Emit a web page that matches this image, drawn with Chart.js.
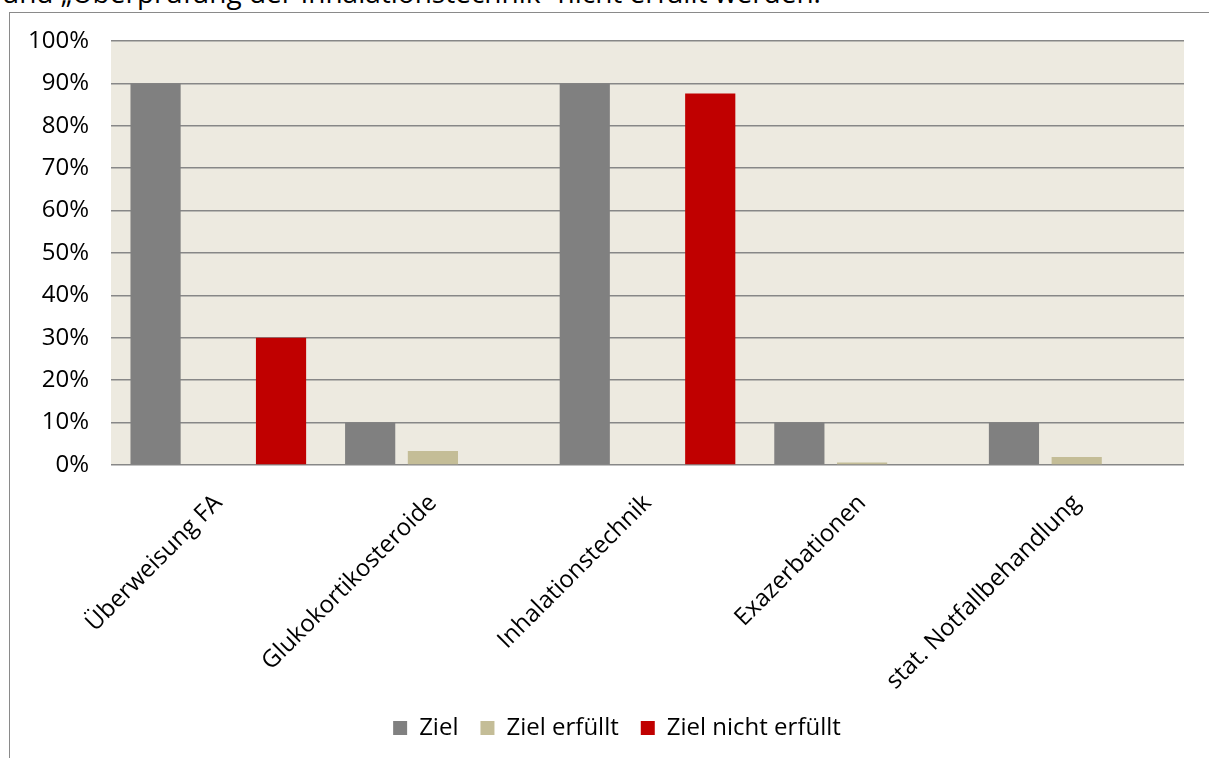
<!DOCTYPE html>
<html>
<head>
<meta charset="utf-8">
<script src="https://cdn.jsdelivr.net/npm/chart.js@4"></script>
<style>
  html, body { margin: 0; padding: 0; background: #fff; overflow: hidden; }
  #wrap { position: relative; width: 1209px; height: 758px; }
  #kopf { position: absolute; left: 2px; top: -22px; font: 28px "Open Sans", sans-serif; line-height: 1; color: #000; white-space: nowrap; }
  #rahmen { position: absolute; left: 9px; top: 12px; width: 1300px; height: 900px; border-left: 1px solid #8a8a8a; border-top: 1px solid #8a8a8a; background: #fff; }
  #chart { position: absolute; left: 0; top: 0; }
</style>
</head>
<body>
<div id="wrap">
  <div id="kopf">und „Überprüfung der Inhalationstechnik“ nicht erfüllt werden.</div>
  <div id="rahmen"></div>
  <canvas id="chart" width="1209" height="758"></canvas>
</div>
<script>
// daten
const kategorien = [
  'Überweisung FA',
  'Glukokortikosteroide',
  'Inhalationstechnik',
  'Exazerbationen',
  'stat. Notfallbehandlung'
];

const ziel = [90, 10, 90, 10, 10];
const zielErfuellt = [0, 3.3, 0, 0.6, 1.9];
const zielNichtErfuellt = [30, 0, 87.6, 0, 0];

const yTicks = [0, 10, 20, 30, 40, 50, 60, 70, 80, 90, 100];

// hintergrund der zeichenflaeche
const flaeche = {
  id: 'flaeche',
  beforeDraw(chart) {
    const a = chart.chartArea;
    const ctx = chart.ctx;
    ctx.save();
    ctx.fillStyle = '#EDEAE0';
    ctx.fillRect(a.left, a.top, a.right - a.left, a.bottom - a.top);
    ctx.restore();
  }
};

// legende etwas nach rechts schieben
const legendeVersatz = {
  id: 'legendeVersatz',
  afterLayout(chart) {
    chart.legend.left += 25;
    chart.legend.right += 25;
  }
};

Chart.defaults.font.family = '"Open Sans", sans-serif';
Chart.defaults.font.size = 24;
Chart.defaults.color = '#000';

const data = {
  labels: kategorien,
  datasets: [{
    label: 'Ziel',
    data: ziel,
    backgroundColor: '#808080'
  }, {
    label: 'Ziel erfüllt',
    data: zielErfuellt,
    backgroundColor: '#C4BD97'
  }, {
    label: 'Ziel nicht erfüllt',
    data: zielNichtErfuellt,
    backgroundColor: '#C00000'
  }]
};

const config = {
  type: 'bar',
  data: data,
  plugins: [flaeche, legendeVersatz],
  options: {
    responsive: false,
    animation: false,
    barPercentage: 0.8,
    categoryPercentage: 0.877,
    layout: { padding: { top: 41, right: 25, bottom: 8, left: 0 } },
    plugins: {
      legend: {
        position: 'bottom',
        labels: {
          boxWidth: 14,
          boxHeight: 14,
          padding: 22,
          font: { size: 24 }
        }
      },
      tooltip: { enabled: false }
    },
    scales: {
      x: {
        grid: { display: false },
        border: { display: false },
        ticks: { minRotation: 45, maxRotation: 45, padding: 16, autoSkip: false },
        afterFit(scale) { scale.height = 229; }
      },
      y: {
        min: 0,
        max: 100,
        afterBuildTicks(scale) { scale.ticks = yTicks.map(v => ({ value: v })); },
        ticks: { callback: v => v + '%', padding: 22 },
        grid: { color: '#878787', lineWidth: 1.5, drawTicks: false },
        border: { display: false },
        afterFit(scale) { scale.width = 111; }
      }
    }
  }
};

const myChart = new Chart(document.getElementById('chart'), config);
</script>
</body>
</html>
